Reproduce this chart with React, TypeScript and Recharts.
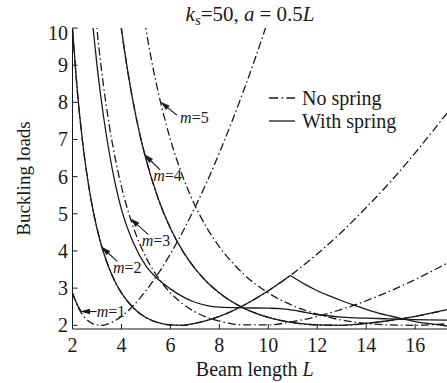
import { LineChart, Line, XAxis, YAxis, ReferenceLine, Legend } from 'recharts'

// beam length L vs buckling load
const xTicks = [2, 4, 6, 8, 10, 12, 14, 16]
const yTicks = [2, 3, 4, 5, 6, 7, 8, 9, 10]

// no spring (dash-dot), modes m = 1..5
const noSpringM1: [number, number][] = [
  [2, 2.87], [2.25, 2.46], [2.5, 2.21], [2.75, 2.07], [3, 2.01], [3.25, 2.0], [3.5, 2.05],
  [4, 2.24], [4.5, 2.54], [5, 2.93], [5.5, 3.39], [6, 3.92], [6.5, 4.51], [7, 5.17],
  [7.5, 5.87], [8, 6.64], [8.5, 7.46], [9, 8.33], [9.5, 9.25], [10, 10.23],
]
const noSpringM2: [number, number][] = [
  [2, 9.97], [2.2, 8.28], [2.4, 7.0], [2.6, 6.01], [2.8, 5.23], [3, 4.61], [3.25, 4.0],
  [3.5, 3.53], [3.75, 3.16], [4, 2.87], [4.5, 2.46], [5, 2.21], [5.5, 2.07], [6, 2.01],
  [6.5, 2.0], [7, 2.05], [8, 2.24], [9, 2.54], [10, 2.93], [11, 3.39], [12, 3.92],
  [13, 4.51], [14, 5.17], [15, 5.87], [16, 6.64], [17, 7.46], [17.3, 7.71],
]
const noSpringM3: [number, number][] = [
  [2.95, 10.31], [3, 9.97], [3.25, 8.53], [3.5, 7.39], [3.75, 6.48], [4, 5.73], [4.25, 5.12],
  [4.5, 4.61], [5, 3.83], [5.5, 3.28], [6, 2.87], [6.5, 2.58], [7, 2.36], [7.5, 2.21],
  [8, 2.11], [8.5, 2.04], [9, 2.01], [10, 2.01], [11, 2.1], [12, 2.24], [13, 2.43],
  [14, 2.66], [15, 2.93], [16, 3.23], [17.3, 3.67],
]
const noSpringM4: [number, number][] = [
  [3.9, 10.48], [4, 9.97], [4.25, 8.86], [4.5, 7.93], [4.75, 7.14], [5, 6.48], [5.5, 5.41],
  [6, 4.61], [6.5, 4.0], [7, 3.53], [7.5, 3.16], [8, 2.87], [9, 2.46], [10, 2.21],
  [11, 2.07], [12, 2.01], [13, 2.0], [14, 2.05], [15, 2.13], [16, 2.24], [17.3, 2.42],
]
const noSpringM5: [number, number][] = [
  [4.95, 10.17], [5, 9.97], [5.25, 9.06], [5.5, 8.28], [6, 7.0], [6.5, 6.01], [7, 5.23],
  [7.5, 4.61], [8, 4.11], [8.5, 3.71], [9, 3.37], [10, 2.87], [11, 2.53], [12, 2.3],
  [13, 2.14], [14, 2.05], [15, 2.01], [16, 2.0], [17.3, 2.04],
]

// with spring (solid)
const springM1: [number, number][] = [
  [2, 2.87], [2.1, 2.7], [2.2, 2.55], [2.3, 2.43], [2.36, 2.37],
]
const springM2: [number, number][] = [
  [2, 9.97], [2.2, 8.28], [2.4, 7.0], [2.6, 6.01], [2.8, 5.23], [3, 4.61], [3.25, 4.0],
  [3.5, 3.53], [3.75, 3.16], [4, 2.87], [4.5, 2.46], [5, 2.21], [5.5, 2.07], [6, 2.01],
  [6.5, 2.0], [7, 2.05], [8, 2.24], [9, 2.54], [10, 2.93], [10.9, 3.34],
]
const springM3: [number, number][] = [
  [2.84, 10.0], [3, 9.0], [3.25, 7.7], [3.5, 6.65], [3.75, 5.8], [4, 5.12], [4.5, 4.2],
  [5, 3.6], [5.4, 3.3], [6, 2.98], [6.5, 2.77], [7, 2.62], [7.5, 2.53], [8, 2.49],
  [9, 2.47], [10, 2.46], [10.5, 2.45], [11, 2.41], [11.5, 2.35], [12, 2.29], [13, 2.22],
  [14, 2.19], [15, 2.17], [16, 2.15], [17.3, 2.14],
]
const springM4 = noSpringM4
const springUpper: [number, number][] = [
  [10.9, 3.34], [11.5, 3.1], [12, 2.93], [12.5, 2.79], [13, 2.66], [13.5, 2.54], [14, 2.43],
  [14.5, 2.33], [15, 2.25], [15.5, 2.17], [16, 2.1], [16.5, 2.05], [17.3, 1.98],
]

// mode labels: arrow tail -> arrow tip (L, load)
const modeLabels = ['1', '2', '3', '4', '5']
const arrowTails: [number, number][] = [[2.99, 2.37], [3.83, 3.72], [5.1, 4.44], [5.58, 6.18], [6.26, 7.66]]
const arrowTips: [number, number][] = [[2.31, 2.37], [3.17, 4.12], [4.35, 4.88], [4.92, 6.61], [5.58, 8.02]]

const FONT = 'Liberation Serif, DejaVu Serif, serif'
const INK = '#1a1a1a'
const DASH_DOT = '8 3 1.5 3'
const labelOffsets = [[0, 5], [-4.3, 11.5], [-6.6, 11.5], [-7, 11.5], [3.3, 8]]

const toPoints = (pairs: [number, number][]) => pairs.map(([l, p]) => ({ l, p }))

const arrowShape = (i: number) => (props: any) => {
  const { x1, y1, x2, y2 } = props
  const ang = Math.atan2(y2 - y1, x2 - x1)
  const len = 10
  const hw = 2.8
  const bx = x2 - len * Math.cos(ang)
  const by = y2 - len * Math.sin(ang)
  const nx = -Math.sin(ang) * hw
  const ny = Math.cos(ang) * hw
  const [ox, oy] = labelOffsets[i]
  return (
    <g>
      <line x1={x1} y1={y1} x2={bx} y2={by} stroke={INK} strokeWidth={1.1} />
      <polygon points={`${x2},${y2} ${bx + nx},${by + ny} ${bx - nx},${by - ny}`} fill={INK} />
      <text x={x1 + ox} y={y1 + oy} fontFamily={FONT} fontSize={16} fill={INK}>
        <tspan fontStyle="italic">m</tspan>={modeLabels[i]}
      </text>
    </g>
  )
}

const YTick = (props: any) => {
  const { x, y, payload } = props
  return (
    <text x={x} y={y + (payload.value === 10 ? 4.5 : 0)} dy="0.35em" textAnchor="end"
      fontFamily={FONT} fontSize={20} fill={INK}>
      {payload.value}
    </text>
  )
}

const renderLegend = () => (
  <svg width={180} height={50}>
    <line x1={9} y1={13} x2={35} y2={13} stroke={INK} strokeWidth={1.3} strokeDasharray="9 3.5 1.5 3.5" />
    <text x={42} y={20} fontFamily={FONT} fontSize={20} fill={INK}>No spring</text>
    <line x1={9} y1={36} x2={35} y2={36} stroke={INK} strokeWidth={1.3} />
    <text x={42} y={43.3} fontFamily={FONT} fontSize={20} fill={INK}>With spring</text>
  </svg>
)

const dashed = [noSpringM1, noSpringM2, noSpringM3, noSpringM4, noSpringM5]
const solid = [springM1, springM2, springM3, springM4, springUpper]

export default function App() {
  return (
    <div style={{ position: 'absolute', left: 0, top: 0, width: 447, height: 383, overflow: 'hidden', background: '#fff' }}>
      <div style={{ position: 'absolute', left: 130, top: 4, width: 240, textAlign: 'center', fontFamily: FONT, fontSize: 21, lineHeight: '20px', color: INK, whiteSpace: 'nowrap' }}>
        <i>k</i><i style={{ fontSize: 15, position: 'relative', top: 4 }}>s</i>=50, <i>a</i>
        <span style={{ margin: '0 5px' }}>=</span>0.5<i>L</i>
      </div>
      <LineChart width={447} height={383} margin={{ top: 28, right: 0, bottom: 0, left: 0 }}>
        <XAxis xAxisId="top" orientation="top" type="number" dataKey="l" domain={[2, 17.3]}
          ticks={xTicks} tick={false} tickSize={-5} height={0} allowDataOverflow
          axisLine={{ stroke: INK }} tickLine={{ stroke: INK }} />
        <XAxis type="number" dataKey="l" domain={[2, 17.3]} ticks={xTicks} tickSize={-5}
          tickMargin={14} height={54} allowDataOverflow axisLine={{ stroke: INK }}
          tickLine={{ stroke: INK }} tick={{ fill: INK, fontSize: 20, fontFamily: FONT }}
          label={(p: any) => (
            <text x={p.viewBox.x + p.viewBox.width / 2 - 5} y={p.viewBox.y + 47} textAnchor="middle"
              fontFamily={FONT} fontSize={20} fill={INK}>
              Beam length <tspan fontStyle="italic">L</tspan>
            </text>
          )} />
        <YAxis type="number" domain={[1.9, 10]} ticks={yTicks} width={72.5} tickSize={-5}
          tickMargin={9.5} allowDataOverflow axisLine={{ stroke: INK }} tickLine={{ stroke: INK }}
          tick={<YTick />}
          label={(p: any) => (
            <text x={p.viewBox.x + 30} y={p.viewBox.y + p.viewBox.height / 2} textAnchor="middle"
              transform={`rotate(-90, ${p.viewBox.x + 30}, ${p.viewBox.y + p.viewBox.height / 2})`}
              fontFamily={FONT} fontSize={19} fill={INK}>
              Buckling loads
            </text>
          )} />
        <Legend layout="vertical" align="center" verticalAlign="middle" content={renderLegend}
          wrapperStyle={{ left: 260, top: 85, width: 180, height: 50 }} />
        {dashed.map((d, i) => (
          <Line key={`ns${i}`} data={toPoints(d)} dataKey="p" type="monotone" stroke={INK}
            strokeWidth={1.3} strokeDasharray={DASH_DOT} dot={false} activeDot={false}
            isAnimationActive={false} />
        ))}
        {solid.map((d, i) => (
          <Line key={`ws${i}`} data={toPoints(d)} dataKey="p" type="monotone" stroke={INK}
            strokeWidth={1.3} dot={false} activeDot={false} isAnimationActive={false} />
        ))}
        {arrowTips.map((tip, i) => (
          <ReferenceLine key={`a${i}`} segment={[{ x: arrowTails[i][0], y: arrowTails[i][1] }, { x: tip[0], y: tip[1] }]}
            ifOverflow="visible" shape={arrowShape(i)} />
        ))}
      </LineChart>
    </div>
  )
}
